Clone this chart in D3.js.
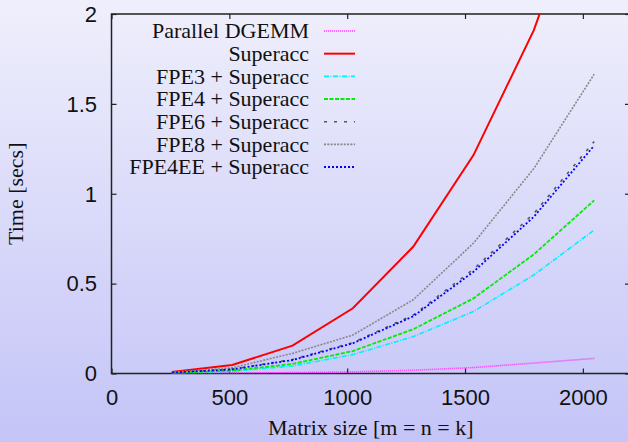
<!DOCTYPE html>
<html>
<head>
<meta charset="utf-8">
<script src="https://cdn.jsdelivr.net/npm/d3@7/dist/d3.min.js"></script>
<style>
  html, body { margin: 0; padding: 0; }
  body { width: 628px; height: 442px; overflow: hidden; }
  svg { display: block; font-family: "Liberation Serif", "DejaVu Serif", serif; }
</style>
</head>
<body>
<script>
// matrix sizes (m = n = k)
const sizes = [256, 512, 768, 1024, 1280, 1536, 1792, 2048];

const dgemm    = [0.001, 0.002, 0.005, 0.009, 0.018, 0.033, 0.058, 0.084];
const superacc = [0.008, 0.047, 0.155, 0.363, 0.705, 1.215, 1.91, 2.85];
const fpe3     = [0.003, 0.012, 0.042, 0.105, 0.205, 0.345, 0.548, 0.798];
const fpe4     = [0.004, 0.016, 0.053, 0.125, 0.246, 0.418, 0.663, 0.963];
const fpe6     = [0.005, 0.024, 0.078, 0.172, 0.325, 0.58, 0.89, 1.29];
const fpe8     = [0.006, 0.032, 0.112, 0.214, 0.41, 0.725, 1.14, 1.665];
const fpe4ee   = [0.005, 0.023, 0.075, 0.168, 0.318, 0.566, 0.872, 1.268];

const seriesNames = ['Parallel DGEMM', 'Superacc', 'FPE3 + Superacc', 'FPE4 + Superacc',
  'FPE6 + Superacc', 'FPE8 + Superacc', 'FPE4EE + Superacc'];
const xTicks = [0, 500, 1000, 1500, 2000];
const yTicks = [0, 0.5, 1, 1.5, 2];

const series = [
  {name: seriesNames[0], values: dgemm,    color: '#ff33ff', dash: '1,1',       w: 1.6},
  {name: seriesNames[1], values: superacc, color: '#ff0000', dash: null,        w: 2},
  {name: seriesNames[2], values: fpe3,     color: '#00f0ff', dash: '5,1.5,1,1.5', w: 1.6},
  {name: seriesNames[3], values: fpe4,     color: '#00ee00', dash: '4,1.5',     w: 1.8},
  {name: seriesNames[4], values: fpe6,     color: '#555555', dash: '3,7',       w: 1.6},
  {name: seriesNames[5], values: fpe8,     color: '#888888', dash: '2,1.3',     w: 1.6},
  {name: seriesNames[6], values: fpe4ee,   color: '#0000ff', dash: '2,2',       w: 1.8}
];

const width = 628;
const height = 442;
const plot = {left: 111.5, right: 630, top: 14, bottom: 373.5};

const svg = d3.select('body')
  .append('svg')
  .attr('width', width)
  .attr('height', height);

// background gradient
const defs = svg.append('defs');
const grad = defs.append('linearGradient')
  .attr('id', 'bg')
  .attr('x1', 0).attr('y1', 0).attr('x2', 0).attr('y2', 1);
grad.append('stop').attr('offset', '0%').attr('stop-color', '#efeffc');
grad.append('stop').attr('offset', '100%').attr('stop-color', '#c4c4f8');

defs.append('clipPath').attr('id', 'clip')
  .append('rect')
  .attr('x', plot.left).attr('y', plot.top)
  .attr('width', plot.right - plot.left)
  .attr('height', plot.bottom - plot.top);

svg.append('rect')
  .attr('width', width)
  .attr('height', height)
  .attr('fill', 'url(#bg)');

const xScale = d3.scaleLinear().domain([0, 2200]).range([plot.left, plot.right]);
const yScale = d3.scaleLinear().domain([0, 2]).range([plot.bottom, plot.top]);

// axes, ticks pointing inward like gnuplot
function styleAxis(g) {
  g.select('.domain').remove();
  g.selectAll('.tick line').attr('stroke', '#222').attr('stroke-width', 1.2);
  g.selectAll('.tick text').attr('fill', '#111').attr('font-size', 22);
}

svg.append('g')
  .attr('transform', `translate(0, ${plot.bottom})`)
  .call(d3.axisBottom(xScale).tickValues(xTicks).tickSize(-5).tickFormat(d3.format('d')))
  .call(styleAxis)
  .call(g => g.selectAll('.tick text').attr('y', 31).attr('dy', 0));

svg.append('g')
  .attr('transform', `translate(0, ${plot.top})`)
  .call(d3.axisTop(xScale).tickValues(xTicks).tickSize(-5).tickFormat(''))
  .call(styleAxis);

svg.append('g')
  .attr('transform', `translate(${plot.left}, 0)`)
  .call(d3.axisLeft(yScale).tickValues(yTicks).tickSize(-5).tickFormat(d3.format('')))
  .call(styleAxis)
  .call(g => g.selectAll('.tick text').attr('x', -14.5).attr('dy', '0.33em'));

svg.append('g')
  .attr('transform', `translate(${plot.right}, 0)`)
  .call(d3.axisRight(yScale).tickValues(yTicks).tickSize(-5).tickFormat(''))
  .call(styleAxis);

// border
svg.append('rect')
  .attr('x', plot.left).attr('y', plot.top)
  .attr('width', plot.right - plot.left)
  .attr('height', plot.bottom - plot.top)
  .attr('fill', 'none')
  .attr('stroke', '#222')
  .attr('stroke-width', 1.5);

// lines
const line = d3.line()
  .x((d, i) => xScale(sizes[i]))
  .y(d => yScale(d));

svg.append('g')
  .attr('clip-path', 'url(#clip)')
  .selectAll('path')
  .data(series)
  .enter()
  .append('path')
  .attr('d', d => line(d.values))
  .attr('fill', 'none')
  .attr('stroke', d => d.color)
  .attr('stroke-width', d => d.w)
  .attr('stroke-dasharray', d => d.dash);

// legend
const legend = svg.append('g');
const rows = legend.selectAll('g')
  .data(series)
  .enter()
  .append('g')
  .attr('transform', (d, i) => `translate(0, ${31 + i * 22.67})`);

rows.append('text')
  .attr('x', 309)
  .attr('dy', '0.33em')
  .attr('text-anchor', 'end')
  .attr('font-size', 22)
  .attr('fill', '#111')
  .text(d => d.name);

rows.append('line')
  .attr('x1', 324).attr('x2', 355)
  .attr('stroke', d => d.color)
  .attr('stroke-width', d => d.w)
  .attr('stroke-dasharray', d => d.dash);

// axis titles
svg.append('text')
  .attr('x', (plot.left + plot.right) / 2)
  .attr('y', 435)
  .attr('text-anchor', 'middle')
  .attr('font-size', 22)
  .attr('fill', '#111')
  .text('Matrix size [m = n = k]');

svg.append('text')
  .attr('transform', `translate(23, ${(plot.top + plot.bottom) / 2}) rotate(-90)`)
  .attr('text-anchor', 'middle')
  .attr('font-size', 22)
  .attr('fill', '#111')
  .text('Time [secs]');
</script>
</body>
</html>
